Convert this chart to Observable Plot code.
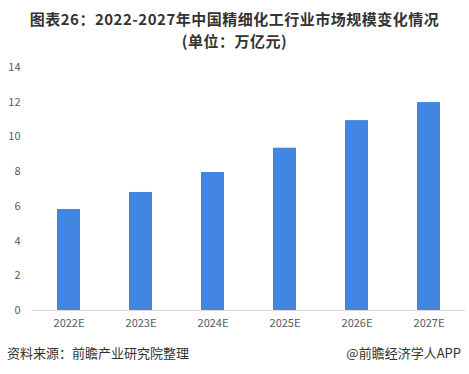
<!DOCTYPE html>
<html>
<head>
<meta charset="utf-8">
<script src="https://cdn.jsdelivr.net/npm/d3@7"></script>
<script src="https://cdn.jsdelivr.net/npm/@observablehq/plot@0.6"></script>
<style>
  html, body { margin: 0; padding: 0; background: #fff; }
  body { width: 469px; height: 374px; position: relative; overflow: hidden;
         font-family: "Noto Sans CJK SC", "Noto Sans", sans-serif; }
  #title { position: absolute; top: 8px; left: 0; width: 469px; text-align: center;
           font-size: 15px; font-weight: bold; line-height: 22px; color: #333; letter-spacing: 0.5px; }
  #title div { height: 22px; line-height: 22px; white-space: nowrap; }
  #chart { position: absolute; top: 50px; left: 0; }
  #src { position: absolute; top: 344px; left: 7px; font-size: 13px; color: #333; line-height: 18px; }
  #brand { position: absolute; top: 344px; right: 8px; font-size: 13px; color: #333; line-height: 18px; }
</style>
</head>
<body>
<div id="title"><div>图表26：2022-2027年中国精细化工行业市场规模变化情况</div><div>(单位：万亿元)</div></div>
<div id="chart"></div>
<div id="src">资料来源：前瞻产业研究院整理</div>
<div id="brand">@前瞻经济学人APP</div>
<script>
const years = ["2022E", "2023E", "2024E", "2025E", "2026E", "2027E"];
const values = [5.82, 6.8, 7.95, 9.35, 10.94, 11.98];
const yTicks = [0, 2, 4, 6, 8, 10, 12, 14];

const data = years.map((y, i) => ({year: y, value: values[i]}));

const chart = Plot.plot({
  width: 469,
  height: 290,
  marginTop: 17,
  marginBottom: 30,
  marginLeft: 32,
  marginRight: 4,
  style: {fontFamily: "'Noto Sans CJK SC', 'Noto Sans', sans-serif", fontSize: "11px", color: "#595959", background: "transparent"},
  x: {domain: years, paddingInner: 0.68, paddingOuter: 0.34, label: null, tickSize: 0, tickPadding: 9},
  y: {domain: [0, 14], ticks: yTicks, label: null, tickSize: 0, tickPadding: 12},
  marks: [
    Plot.barY(data, {x: "year", y: "value", fill: "#4286e2"}),
    Plot.ruleY([0], {stroke: "#d9d9d9", strokeWidth: 1})
  ]
});
document.getElementById("chart").appendChild(chart);
</script>
</body>
</html>
